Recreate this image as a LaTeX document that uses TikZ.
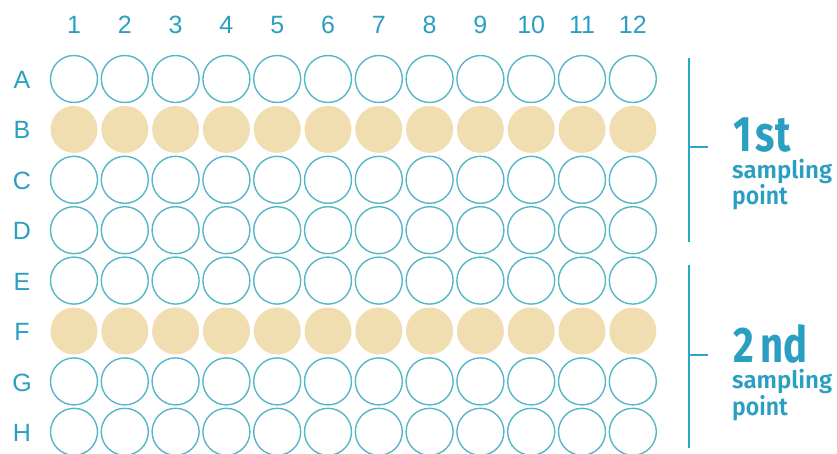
\documentclass[tikz,border=0pt]{standalone}
\usepackage{fontspec}
\setmainfont{Liberation Sans}
\newfontfamily\labelfont{Fira Sans}[UprightFont=* SemiBold]
\newfontfamily\bigfont{Fira Sans}[UprightFont=* Bold]
\definecolor{tealtxt}{HTML}{2A9FC2}
\definecolor{wellline}{HTML}{55B6C7}
\definecolor{wellfill}{HTML}{F0DDB0}
\definecolor{brack}{HTML}{2AA8C8}
\newcommand{\samplabel}[2]{\vbox{\baselineskip=26.5pt\lineskiplimit=-1000pt\lineskip=0pt
  \hbox{\kern1pt\scalebox{0.8}[1]{\bigfont\fontsize{50}{50}\selectfont #1}}
  \hbox{\resizebox{100pt}{!}{\labelfont\fontsize{25}{25}\selectfont sampling}}
  \hbox{\scalebox{0.92}[1]{\labelfont\fontsize{25}{25}\selectfont point}}}}
\begin{document}
\begin{tikzpicture}[x=1pt,y=-1pt,
  well/.style={circle,draw=wellline,line width=1.4pt,minimum size=47pt,inner sep=0pt},
  filled/.style={well,fill=wellfill,draw=none},
  lab/.style={text=tealtxt,font=\fontsize{25}{25}\selectfont,inner sep=0pt},
  brk/.style={draw=brack,line width=2.4pt}]
\useasboundingbox (0,0) rectangle (837,454);
\foreach \c in {1,...,12} {
  \node[lab] (col\c) at ({74+(\c-1)*50.8},25) {\c};
}
\foreach \r/\n in {A/0,B/1,C/2,D/3,E/4,F/5,G/6,H/7} {
  \node[lab] (row\r) at (22,{80+\n*50.4}) {\r};
  \foreach \c in {1,...,12} {
    \ifnum\n=1
      \node[filled] (\r\c) at ({74+(\c-1)*50.8},{79+\n*50.4}) {};
    \else\ifnum\n=5
      \node[filled] (\r\c) at ({74+(\c-1)*50.8},{79+\n*50.4}) {};
    \else
      \node[well] (\r\c) at ({74+(\c-1)*50.8},{79+\n*50.4}) {};
    \fi\fi
  }
}
% brackets
\coordinate (b1t) at (689,58);
\coordinate (b1b) at (689,242);
\coordinate (b1m) at (689,147);
\coordinate (b1e) at (708,147);
\draw[brk] (b1t) -- (b1b);
\draw[brk] (b1m) -- (b1e);
\coordinate (b2t) at (689,265);
\coordinate (b2b) at (689,448);
\coordinate (b2m) at (689,355);
\coordinate (b2e) at (708,355);
\draw[brk] (b2t) -- (b2b);
\draw[brk] (b2m) -- (b2e);
% texts
\node[anchor=base west,inner sep=0pt,text=tealtxt] (t1) at (732,205) {\samplabel{1\kern5pt st}{}};
\node[anchor=base west,inner sep=0pt,text=tealtxt] (t2) at (732,415) {\samplabel{2\kern8pt nd}{}};
\end{tikzpicture}
\end{document}
